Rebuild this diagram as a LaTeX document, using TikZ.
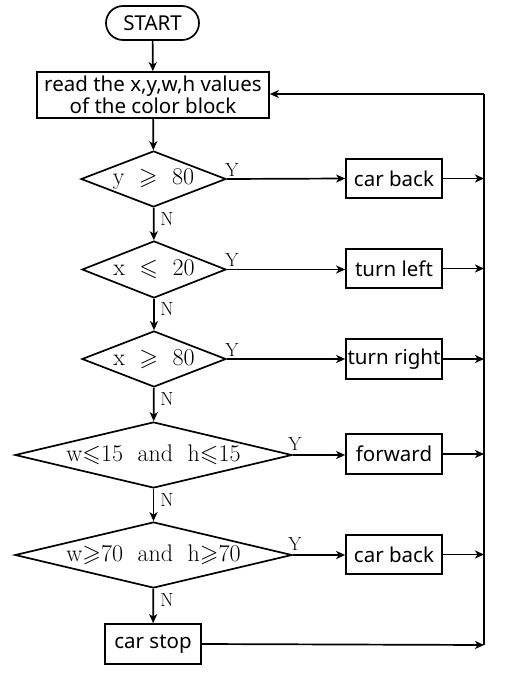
\documentclass[tikz,border=0pt]{standalone}
\usepackage{amssymb}
\usepackage{fontspec}
\newfontfamily\boxfont{Noto Sans}
\usetikzlibrary{shapes.geometric,arrows.meta}
\begin{document}
\begin{tikzpicture}[x=1pt,y=-1pt,
  line width=1.7pt,
  arr/.style={-{Stealth[length=9pt,width=8pt,inset=2.5pt]}},
  procbox/.style={draw,rectangle,inner sep=0pt,font=\boxfont\fontsize{20.5}{22}\selectfont},
  decbox/.style={draw,diamond,inner sep=0pt},
  dectext/.style={inner sep=0pt,font=\fontsize{24}{26}\selectfont},
  lbl/.style={font=\fontsize{19}{20}\selectfont,inner sep=0pt}]
\useasboundingbox (0,0) rectangle (507,687);
\node[procbox,rounded corners=17pt,minimum width=93pt,minimum height=34pt] (start) at (152.5,23) {START};
\node[procbox,minimum width=232pt,minimum height=46pt,align=center,font=\boxfont\fontsize{20.5}{20.5}\selectfont] (read) at (153,95) {read the x,y,w,h values\\of the color block};
\node[decbox,minimum width=145pt,minimum height=56pt] (d1) at (153.5,179) {};
\node[decbox,minimum width=144pt,minimum height=57pt] (d2) at (154,269.5) {};
\node[decbox,minimum width=144pt,minimum height=56pt] (d3) at (154,359) {};
\node[decbox,minimum width=277pt,minimum height=66pt] (d4) at (153.5,455) {};
\node[decbox,minimum width=277pt,minimum height=66pt] (d5) at (153.5,555) {};
\node[dectext] (t1) at (d1) {y \ $\geqslant$ \ 80};
\node[dectext] (t2) at (d2) {x \ $\leqslant$ \ 20};
\node[dectext] (t3) at (d3) {x \ $\geqslant$ \ 80};
\node[dectext] (t4) at (d4) {w$\leqslant$15 \ and \ h$\leqslant$15};
\node[dectext] (t5) at (d5) {w$\geqslant$70 \ and \ h$\geqslant$70};
\node[procbox,minimum width=96pt,minimum height=40pt] (stop) at (153,644) {car stop};
\node[procbox,minimum width=96pt,minimum height=39pt] (r1) at (394,178.5) {car back};
\node[procbox,minimum width=96pt,minimum height=39pt] (r2) at (394,268.5) {turn left};
\node[procbox,minimum width=96pt,minimum height=40pt] (r3) at (394,359) {turn right};
\node[procbox,minimum width=96pt,minimum height=40pt] (r4) at (394,454) {forward};
\node[procbox,minimum width=96pt,minimum height=39pt] (r5) at (394,554.5) {car back};
\coordinate (top) at (484,94);
\coordinate (bot) at (484,645);
\coordinate (j1) at (484,178.5);
\coordinate (j2) at (484,268.5);
\coordinate (j3) at (484,359);
\coordinate (j4) at (484,454);
\coordinate (j5) at (484,554.5);
% main flow
\draw[arr] (start) -- (read);
\draw[arr] (read) -- (d1);
\draw[arr] (d1) -- (d2);
\draw[arr] (d2) -- (d3);
\draw[arr] (d3) -- (d4);
\draw[arr] (d4) -- (d5);
\draw[arr] (d5) -- (stop);
% yes branches
\draw[arr] (d1.east) -- (r1.west);
\draw[arr] (d2.east) -- (d2.east -| r2.west);
\draw[arr] (d3.east) -- (d3.east -| r3.west);
\draw[arr] (d4.east) -- (d4.east -| r4.west);
\draw[arr] (d5.east) -- (d5.east -| r5.west);
% returns
\draw[arr] (r1.east) -- (j1);
\draw[arr] (r2.east) -- (j2);
\draw[arr] (r3.east) -- (j3);
\draw[arr] (r4.east) -- (j4);
\draw[arr] (r5.east) -- (j5);
\draw[arr] (stop.east) -- (bot);
\draw (bot) -- (top);
\draw[arr] (top) -- (top -| read.east);
% labels
\node[lbl] (y1) at (232,170) {Y};
\node[lbl] (y2) at (232,260) {Y};
\node[lbl] (y3) at (232,350) {Y};
\node[lbl] (y4) at (295,444) {Y};
\node[lbl] (y5) at (295,544) {Y};
\node[lbl] (n1) at (167,219) {N};
\node[lbl] (n2) at (167,309) {N};
\node[lbl] (n3) at (167,399) {N};
\node[lbl] (n4) at (167,500) {N};
\node[lbl] (n5) at (167,600) {N};
\end{tikzpicture}
\end{document}
